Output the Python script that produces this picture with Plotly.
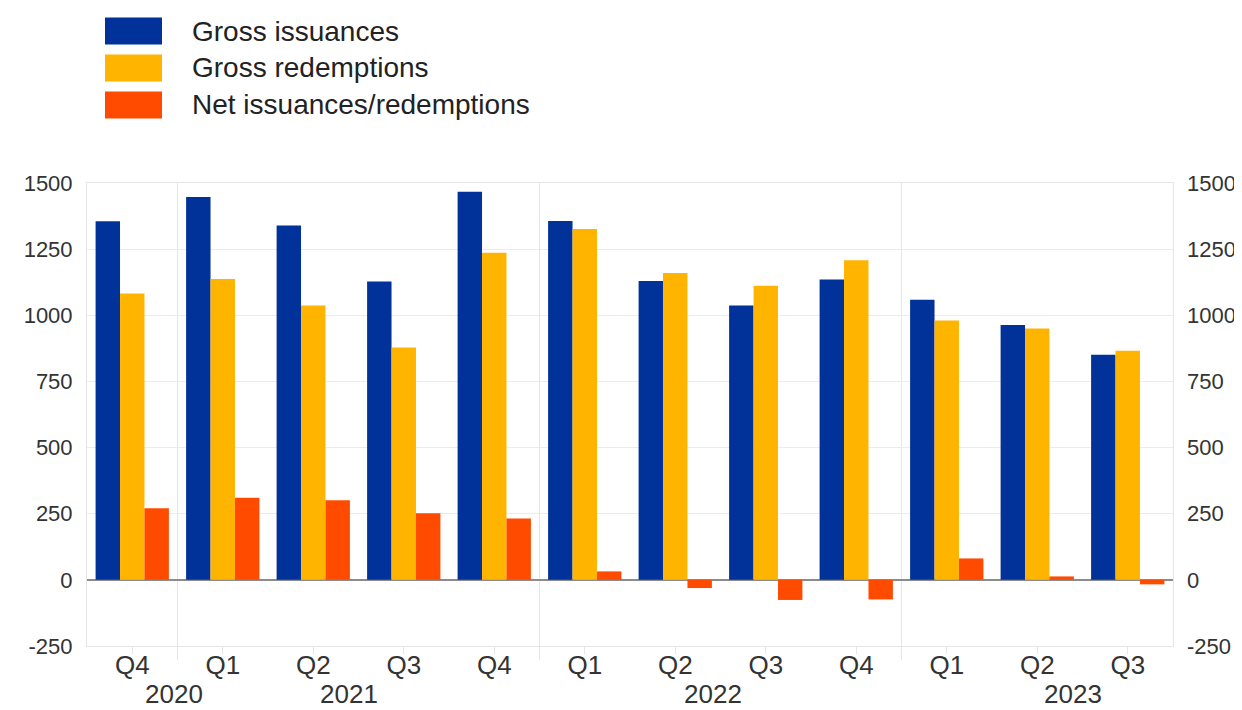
import plotly.graph_objects as go

quarters = ["Q4", "Q1", "Q2", "Q3", "Q4", "Q1", "Q2", "Q3", "Q4", "Q1", "Q2", "Q3"]
years = ["2020", "2021", "2022", "2023"]
year_label_pos = [0.46, 2.4, 6.42, 10.4]
year_breaks = [0.5, 4.5, 8.5]

gross_issuances = [1355, 1447, 1339, 1128, 1467, 1356, 1130, 1037, 1135, 1059, 963, 851]
gross_redemptions = [1082, 1137, 1037, 878, 1236, 1326, 1160, 1112, 1208, 980, 950, 866]
net_issuances = [271, 310, 301, 252, 232, 32, -31, -76, -74, 81, 13, -17]

series_names = ["Gross issuances", "Gross redemptions", "Net issuances/redemptions"]
series_colors = ["#003299", "#FFB400", "#FF4B00"]

y_ticks = [-250, 0, 250, 500, 750, 1000, 1250, 1500]
y_ticktext = [str(v) for v in y_ticks]

# page has an 8px body margin; figure sized to fill the rest of the window
OFF = 8
W, H = 1242 - OFF, 710 - OFF
ML, MT = 87 - OFF, 183 - OFF
MR, MB = W - (1173 - OFF), H - (646 - OFF)
PW, PH = W - ML - MR, H - MT - MB

def px_x(page_x):
    return (page_x - OFF - ML) / PW

def px_y(page_y):
    return (H - MB - (page_y - OFF)) / PH

FONT = "Liberation Sans, Arial, Helvetica, sans-serif"
xs = list(range(len(quarters)))

fig = go.Figure()
for name, vals, col in zip(series_names, [gross_issuances, gross_redemptions, net_issuances], series_colors):
    fig.add_trace(go.Bar(x=xs, y=vals, name=name, marker=dict(color=col, line=dict(width=0)),
                         showlegend=False))

# invisible trace so the right-hand axis is drawn
fig.add_trace(go.Scatter(x=xs, y=gross_issuances, yaxis="y2", mode="lines",
                         line=dict(width=0, color="rgba(0,0,0,0)"), hoverinfo="skip",
                         showlegend=False))

fig.update_layout(
    width=W, height=H,
    margin=dict(l=ML, r=MR, t=MT, b=MB, autoexpand=False),
    paper_bgcolor="white", plot_bgcolor="white",
    barmode="group", bargap=0.19, bargroupgap=0,
    font=dict(family=FONT, color="#333333"),
    showlegend=False,
    xaxis=dict(
        range=[-0.5, len(quarters) - 0.5],
        tickvals=xs, ticktext=quarters,
        tickfont=dict(size=26, color="#333333"),
        ticks="outside", ticklen=7, tickcolor="#e6e6e6", tickwidth=1,
        ticklabelstandoff=-11,
        showgrid=False, zeroline=False,
        showline=True, linecolor="#e6e6e6", linewidth=1, mirror=True,
    ),
    yaxis=dict(
        range=[-250, 1500], tickvals=y_ticks, ticktext=y_ticktext,
        tickfont=dict(size=22, color="#333333"),
        showgrid=True, gridcolor="#ececec", gridwidth=1,
        zeroline=True, zerolinecolor="#8c8c8c", zerolinewidth=1.5,
        showline=True, linecolor="#e6e6e6", linewidth=1, mirror=True,
        ticks="", ticklabelstandoff=9,
    ),
    yaxis2=dict(
        range=[-250, 1500], tickvals=y_ticks, ticktext=y_ticktext,
        overlaying="y", side="right",
        tickfont=dict(size=22, color="#333333"),
        showgrid=False, zeroline=False, showline=False,
        ticks="", ticklabelstandoff=13,
    ),
)

shapes = []
for b in year_breaks:
    shapes.append(dict(type="line", xref="x", yref="paper", x0=b, x1=b,
                       y0=px_y(660), y1=1, line=dict(color="#e6e6e6", width=1), layer="below"))

annotations = []
for yr, pos in zip(years, year_label_pos):
    annotations.append(dict(x=pos, y=px_y(694), xref="x", yref="paper", text=yr,
                            showarrow=False, xanchor="center", yanchor="middle",
                            font=dict(size=26, color="#333333", family=FONT)))

# custom legend (large swatches)
row_centers = [31, 68, 105]
for name, col, yc in zip(series_names, series_colors, row_centers):
    shapes.append(dict(type="rect", xref="paper", yref="paper",
                       x0=px_x(105), x1=px_x(162), y0=px_y(yc + 13.5), y1=px_y(yc - 13.5),
                       fillcolor=col, line=dict(width=0)))
    annotations.append(dict(x=px_x(190), y=px_y(yc), xref="paper", yref="paper", text=name,
                            showarrow=False, xanchor="left", yanchor="middle",
                            font=dict(size=28, color="#222222", family=FONT)))

fig.update_layout(shapes=shapes, annotations=annotations)
fig.write_html("out.html")
